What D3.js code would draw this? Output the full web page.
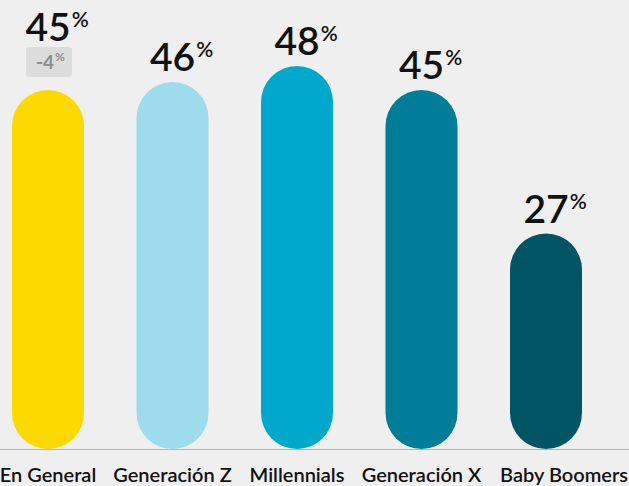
<!DOCTYPE html>
<html>
<head>
<meta charset="utf-8">
<script src="https://cdn.jsdelivr.net/npm/d3@7"></script>
<style>
  body { margin: 0; background: #efefef; }
  svg { display: block; font-family: Lato, "Open Sans", sans-serif; }
</style>
</head>
<body>
<div id="chart"></div>
<script>
const categories = ["En General", "Generación Z", "Millennials", "Generación X", "Baby Boomers"];
const values = [45, 46, 48, 45, 27];
const colors = ["#fdd900", "#9ddcec", "#00a8cb", "#007d98", "#005565"];
const deltas = ["-4", null, null, null, null];

const width = 629, height = 486;
const baseline = 449;
const barW = 72;

const svg = d3.select("#chart").append("svg")
    .attr("width", width)
    .attr("height", height);

svg.append("rect").attr("width", width).attr("height", height).attr("fill", "#efefef");

const x = d3.scalePoint()
    .domain(categories)
    .range([48, 546]);

const y = d3.scaleLinear()
    .domain([0, 48])
    .range([baseline, 66]);

const data = categories.map((c, i) => ({ cat: c, value: values[i], color: colors[i], delta: deltas[i] }));

// barre a pillola
svg.selectAll(".bar")
    .data(data)
    .enter().append("rect")
    .attr("class", "bar")
    .attr("x", d => x(d.cat) - barW / 2)
    .attr("y", d => y(d.value))
    .attr("width", barW)
    .attr("height", d => baseline - y(d.value))
    .attr("rx", barW / 2)
    .attr("fill", d => d.color);

// linea di base
svg.append("line")
    .attr("x1", 0).attr("x2", width)
    .attr("y1", baseline + 0.5).attr("y2", baseline + 0.5)
    .attr("stroke", "#b5b5b5")
    .attr("stroke-width", 1);

// etichette valori
data.forEach(d => {
    const cx = x(d.cat);
    const top = y(d.value);
    const base = d.delta ? top - 49 : top - 11;
    const num = svg.append("text")
        .attr("x", cx)
        .attr("y", base)
        .attr("text-anchor", "middle")
        .attr("font-size", 39)
        .attr("font-weight", 600)
        .attr("fill", "#111")
        .text(d.value);
    const w = num.node().getComputedTextLength();
    svg.append("text")
        .attr("x", cx + w / 2 + 1)
        .attr("y", base - 14)
        .attr("font-size", 21)
        .attr("font-weight", 600)
        .attr("fill", "#111")
        .text("%");

    if (d.delta) {
        svg.append("rect")
            .attr("x", cx - 22)
            .attr("y", top - 43)
            .attr("width", 46)
            .attr("height", 30)
            .attr("rx", 3)
            .attr("fill", "#dcdcdc");
        const dt = svg.append("text")
            .attr("x", cx - 3)
            .attr("y", top - 21)
            .attr("text-anchor", "middle")
            .attr("font-size", 19)
            .attr("font-weight", 700)
            .attr("fill", "#8c8c8c")
            .text(d.delta);
        const dw = dt.node().getComputedTextLength();
        svg.append("text")
            .attr("x", cx - 3 + dw / 2 + 1)
            .attr("y", top - 29)
            .attr("font-size", 12)
            .attr("font-weight", 700)
            .attr("fill", "#8c8c8c")
            .text("%");
    }
});

// etichette categorie (l'ultima allineata al bordo destro)
const last = categories.length - 1;
svg.selectAll(".cat")
    .data(data)
    .enter().append("text")
    .attr("class", "cat")
    .attr("x", (d, i) => i === last ? width - 1 : x(d.cat))
    .attr("y", 482)
    .attr("text-anchor", (d, i) => i === last ? "end" : "middle")
    .attr("font-size", 20)
    .attr("font-weight", 600)
    .attr("fill", "#111")
    .text(d => d.cat);
</script>
</body>
</html>
